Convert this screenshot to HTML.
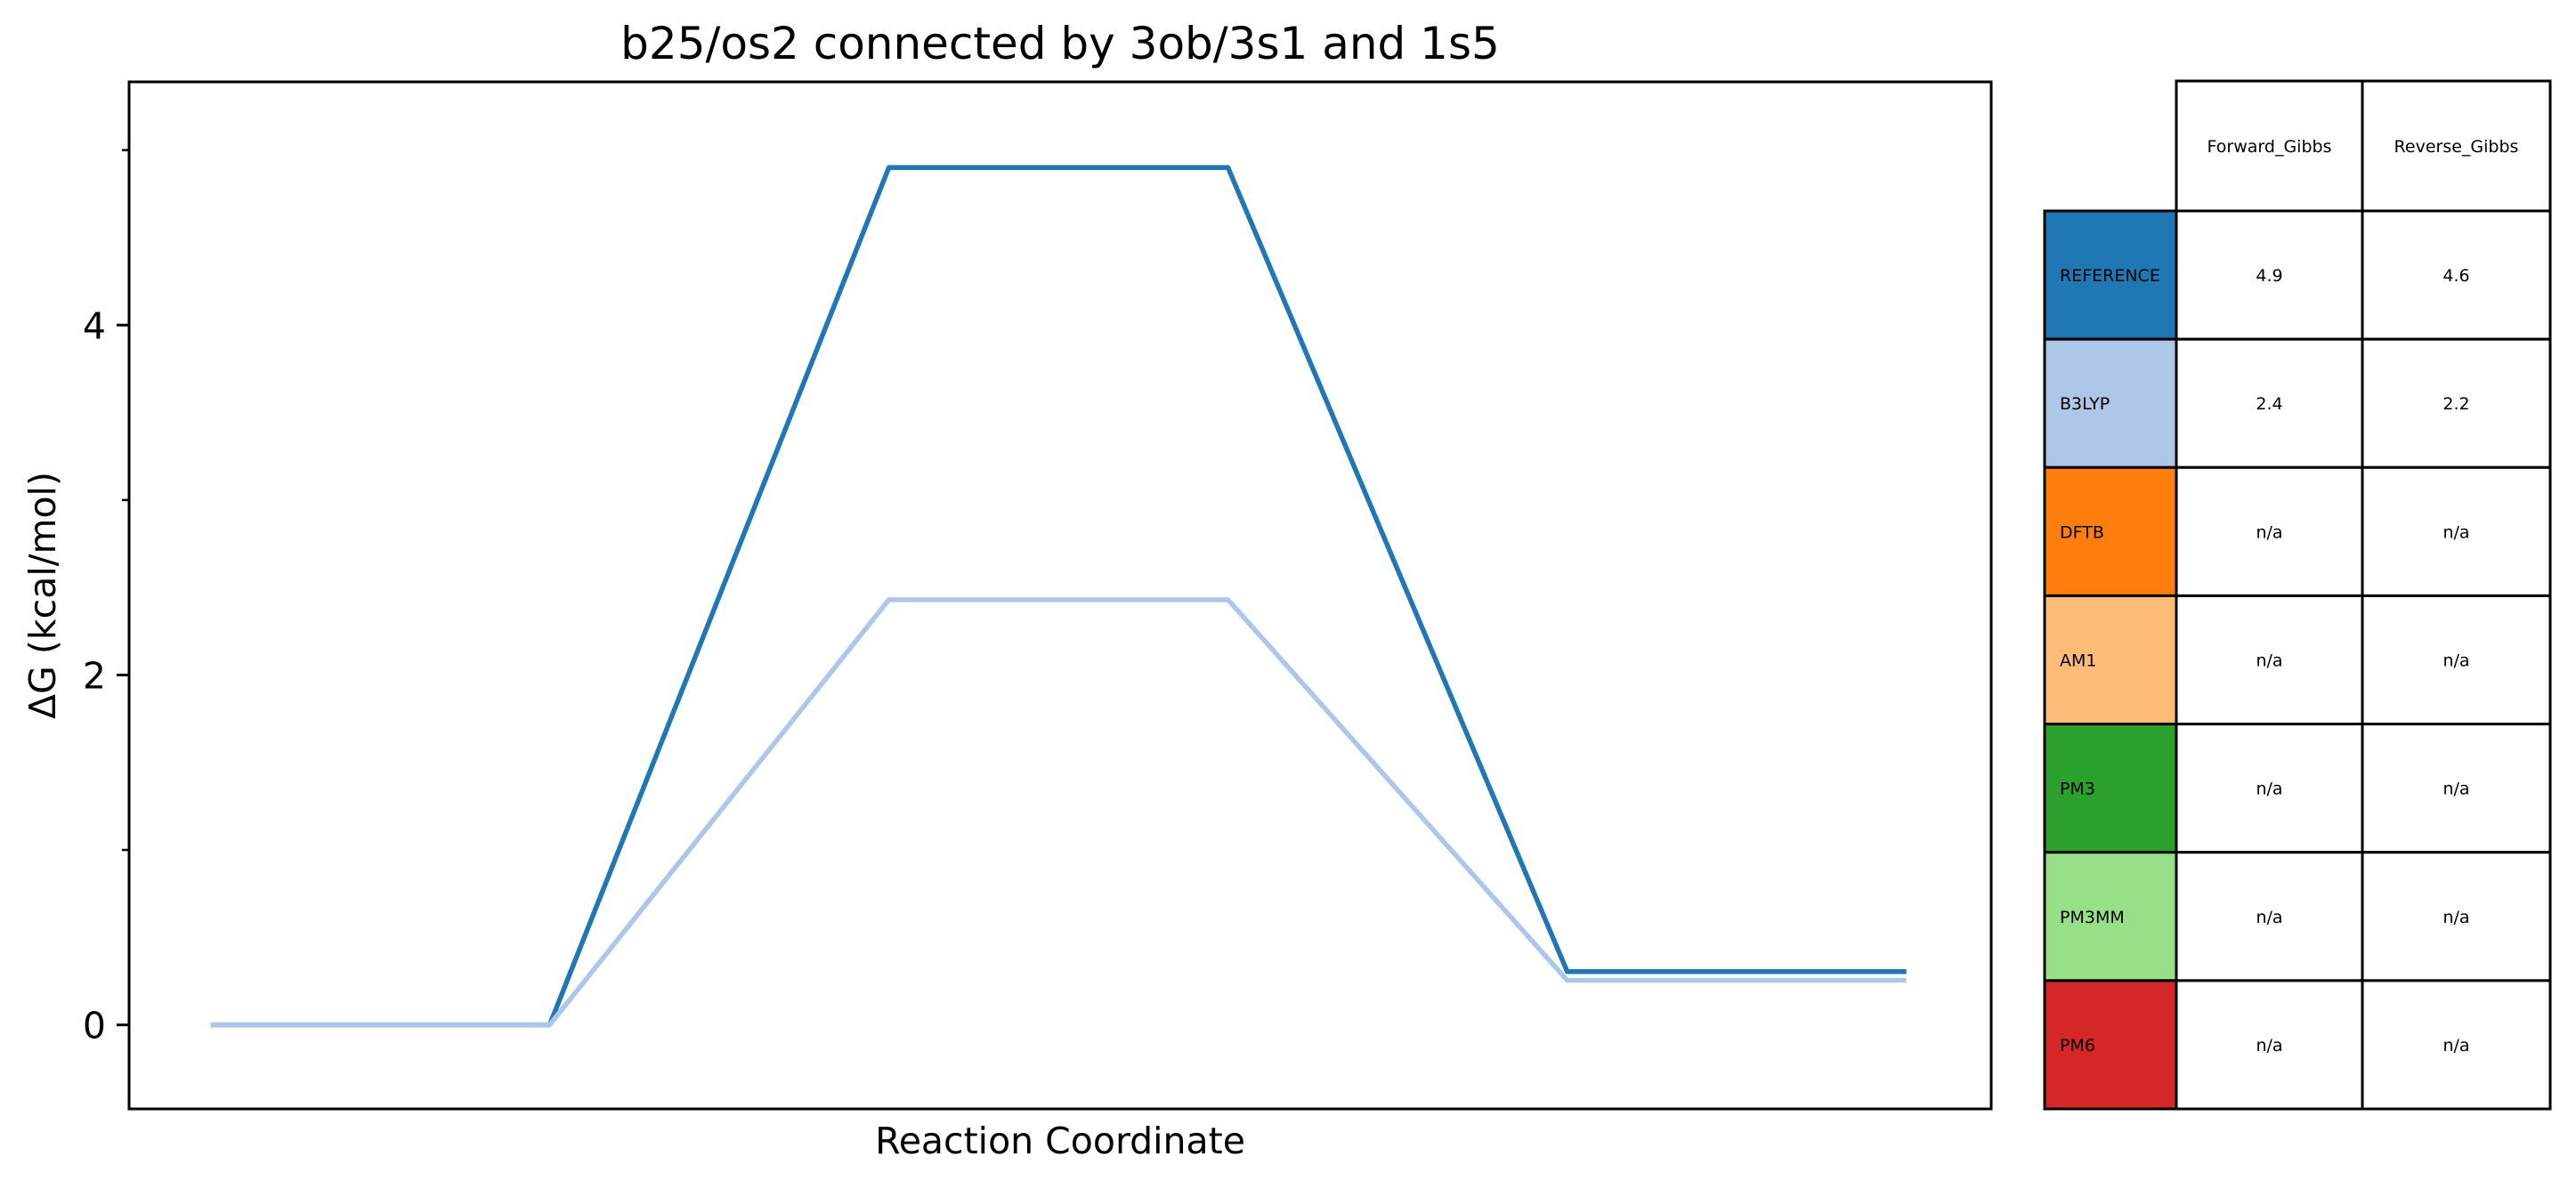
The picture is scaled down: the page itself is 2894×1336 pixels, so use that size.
<!DOCTYPE html>
<html><head><meta charset="utf-8"><style>
html,body{margin:0;padding:0;background:#fff;}
svg{display:block;font-family:"DejaVu Sans","Liberation Sans",sans-serif;}
</style></head><body>
<svg id="fig" width="2894" height="1336" viewBox="0 0 2894 1336" xmlns="http://www.w3.org/2000/svg">
<rect width="2894" height="1336" fill="#fff"/>
<text x="1191" y="66" font-size="50" text-anchor="middle">b25/os2 connected by 3ob/3s1 and 1s5</text>
<g id="plot"></g>
<rect x="145" y="92" width="2092" height="1154" fill="none" stroke="#000" stroke-width="3"/>
<text x="1191" y="1296" font-size="41" text-anchor="middle">Reaction Coordinate</text>
<text transform="translate(62,669) rotate(-90)" font-size="41" text-anchor="middle">ΔG (kcal/mol)</text>
<g id="yticks"></g>
<g id="table"></g>
</svg>
<script>
const categories = [0, 1, 2, 3, 4, 5];
const seriesNames = ["REFERENCE", "B3LYP"];
const referenceValues = [0, 0, 4.9, 4.9, 0.305, 0.305];
const b3lypValues = [0, 0, 2.43, 2.43, 0.255, 0.255];
const majorTicks = [0, 2, 4];
const minorTicks = [1, 3, 5];
const tableMethods = ["REFERENCE", "B3LYP", "DFTB", "AM1", "PM3", "PM3MM", "PM6"];
const forwardGibbs = ["4.9", "2.4", "n/a", "n/a", "n/a", "n/a", "n/a"];
const reverseGibbs = ["4.6", "2.2", "n/a", "n/a", "n/a", "n/a", "n/a"];
const columnHeaders = ["Forward_Gibbs", "Reverse_Gibbs"];

const NS = "http://www.w3.org/2000/svg";
const X0 = 145, X1 = 2237, Y0 = 92, Y1 = 1246;
const xMin = -0.24, xMax = 5.25, yMin = -0.48, yMax = 5.39;
function xs(v){ return X0 + (v - xMin) / (xMax - xMin) * (X1 - X0); }
function ys(v){ return Y1 - (v - yMin) / (yMax - yMin) * (Y1 - Y0); }
function mk(tag, attrs, parent){ const e = document.createElementNS(NS, tag); for (const k in attrs) e.setAttribute(k, attrs[k]); parent.appendChild(e); return e; }

const plot = document.getElementById("plot");
const colors = ["#1f77b4", "#aec7e8"];
[referenceValues, b3lypValues].forEach((vals, i) => {
  const pts = categories.map((c, j) => xs(c).toFixed(1) + "," + ys(vals[j]).toFixed(1)).join(" ");
  const pl = mk("polyline", {points: pts, fill: "none", stroke: colors[i], "stroke-width": 5.5, "stroke-linejoin": "round"}, plot);
  
  
});
// draw reference on top? matplotlib draws in order; B3LYP drawn last on top
const yt = document.getElementById("yticks");
majorTicks.forEach(t => {
  const y = ys(t);
  const l = mk("line", {x1: X0 - 14, x2: X0, y1: y, y2: y, stroke: "#000", "stroke-width": 3}, yt);
  
  
  const tx = mk("text", {x: X0 - 26, y: y + 15, "font-size": 41, "text-anchor": "end"}, yt);
  tx.textContent = t;
  
  
});
minorTicks.forEach(t => {
  const y = ys(t);
  const l = mk("line", {x1: X0 - 8, x2: X0, y1: y, y2: y, stroke: "#000", "stroke-width": 2.5}, yt);
  
  
});

const tb = document.getElementById("table");
const rowColors = ["#1f77b4", "#aec7e8", "#ff7f0e", "#ffbb78", "#2ca02c", "#98df8a", "#d62728"];
const cx = [2297, 2445, 2654, 2865];
const hTop = 91, hBot = 237, rowH = (1246 - 237) / 7;
columnHeaders.forEach((h, j) => {
  const r = mk("rect", {x: cx[j+1], y: hTop, width: cx[j+2]-cx[j+1], height: hBot-hTop, fill: "#fff", stroke: "#000", "stroke-width": 3}, tb);
  
  
  const t = mk("text", {x: (cx[j+1]+cx[j+2])/2, y: (hTop+hBot)/2 + 7, "font-size": 19, "text-anchor": "middle"}, tb);
  t.textContent = h;
  
  
});
tableMethods.forEach((m, i) => {
  const y = hBot + i * rowH;
  const r = mk("rect", {x: cx[0], y: y, width: cx[1]-cx[0], height: rowH, fill: rowColors[i], stroke: "#000", "stroke-width": 3}, tb);
  
  
  const t = mk("text", {x: cx[0] + 17, y: y + rowH/2 + 7, "font-size": 19}, tb);
  t.textContent = m;
  
  
  [forwardGibbs[i], reverseGibbs[i]].forEach((v, j) => {
    const c = mk("rect", {x: cx[j+1], y: y, width: cx[j+2]-cx[j+1], height: rowH, fill: "#fff", stroke: "#000", "stroke-width": 3}, tb);
    
    
    const vt = mk("text", {x: (cx[j+1]+cx[j+2])/2, y: y + rowH/2 + 7, "font-size": 19, "text-anchor": "middle"}, tb);
    vt.textContent = v;
    
    
  });
});
</script>
</body></html>
